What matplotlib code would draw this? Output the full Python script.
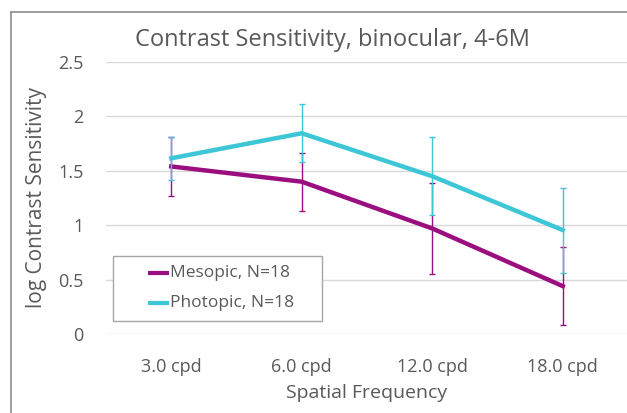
import matplotlib
matplotlib.use("Agg")
import matplotlib.pyplot as plt
from matplotlib.lines import Line2D
from matplotlib.patches import Rectangle

categories = ["3.0 cpd", "6.0 cpd", "12.0 cpd", "18.0 cpd"]
mesopic = [1.54, 1.40, 0.97, 0.44]
mesopic_err = [0.27, 0.265, 0.42, 0.36]
photopic = [1.615, 1.845, 1.45, 0.955]
photopic_err = [0.20, 0.265, 0.36, 0.39]
yticks = [0, 0.5, 1, 1.5, 2, 2.5]
ytick_labels = ["0", "0.5", "1", "1.5", "2", "2.5"]
series_labels = ["Mesopic, N=18", "Photopic, N=18"]

plt.rcParams['font.family'] = ['Open Sans', 'DejaVu Sans']
txt = '#595959'
mag = '#9B0E80'
cya = '#3CC6D6'

W, H = 627, 413
def fx(px):
    return px / W
def fy(py):
    return 1 - py / H

fig = plt.figure(figsize=(6.27, 4.13), dpi=100)
ax = fig.add_axes([fx(106), fy(334), 522 / W, (334 - 62) / H])
x = list(range(len(categories)))

ax.errorbar(x, mesopic, yerr=mesopic_err, color=mag, lw=3.2, elinewidth=1.0,
            capsize=2.5, capthick=1.0, zorder=3)
ax.errorbar(x, photopic, yerr=photopic_err, color=cya, lw=3.2, elinewidth=1.0,
            capsize=2.5, capthick=1.0, zorder=4)

ax.set_xlim(-0.5, len(categories) - 0.5)
ax.set_ylim(0, 2.5)
ax.set_yticks(yticks)
ax.set_yticklabels(ytick_labels)
ax.set_xticks(x)
ax.set_xticklabels(categories)
ax.grid(axis='y', color='#D9D9D9', lw=1)
ax.set_axisbelow(True)
for s in ax.spines.values():
    s.set_visible(False)
ax.tick_params(length=0, labelsize=13, colors=txt)
ax.tick_params(axis='y', pad=16)
ax.tick_params(axis='x', pad=17)
ax.set_xlabel("Spatial Frequency", fontsize=14, color=txt, labelpad=6)
ax.set_ylabel("log Contrast Sensitivity", fontsize=15, color=txt, labelpad=8)

fig.text(fx(332), fy(40), "Contrast Sensitivity, binocular, 4-6M",
         ha='center', va='center', fontsize=17, color=txt)

# legend box drawn manually to match layout
fig.add_artist(Rectangle((fx(113), fy(321)), (322 - 113) / W, (321 - 256) / H,
                         transform=fig.transFigure, facecolor='white',
                         edgecolor='#A6A6A6', lw=1, zorder=5))
for i, (lab, col) in enumerate(zip(series_labels, [mag, cya])):
    yy = [273, 303][i]
    fig.add_artist(Line2D([fx(148), fx(169)], [fy(yy), fy(yy)], color=col,
                          lw=3, zorder=6, solid_capstyle='butt'))
    fig.text(fx(170), fy(yy), lab, ha='left', va='center', fontsize=12.5,
             color=txt, zorder=6)

# outer border (top and left)
fig.add_artist(Line2D([fx(11), 1], [fy(12), fy(12)], color='#8C8C8C', lw=1.2))
fig.add_artist(Line2D([fx(11), fx(11)], [0, fy(12)], color='#8C8C8C', lw=1.2))

fig.savefig("out.png", dpi=100)
